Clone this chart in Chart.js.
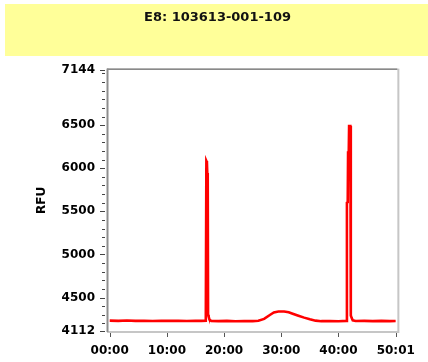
<!DOCTYPE html>
<html>
<head>
<meta charset="utf-8">
<script src="https://cdn.jsdelivr.net/npm/chart.js@4.4.0/dist/chart.umd.min.js"></script>
<style>
  html, body { margin: 0; padding: 0; background: #fff; }
</style>
</head>
<body>
<canvas id="myChart" width="428" height="362"></canvas>
<script>
// DATA
const chartTitle = 'E8: 103613-001-109';
const yTitle = 'RFU';

// run time in minutes
const timeMin = [
    0, 1.5, 3, 4.5, 6, 7.5, 9, 10.5, 12, 13.5, 15, 16,
    16.8, 16.9, 17.0, 17.06, 17.14, 17.2, 17.3, 17.45, 17.75,
    19, 20.5, 22, 23.5, 25,
    26, 27, 28, 28.7, 29.5, 30.5, 31.3, 32, 33, 34, 35, 36, 37,
    38.5, 40, 41.4,
    41.48, 41.62, 41.68, 41.8, 41.86, 42.08, 42.16, 42.3, 42.5,
    43, 44.5, 46, 47.5, 49, 50.0
];
const rfu = [
    4232, 4230, 4233, 4229, 4231, 4228, 4230, 4229, 4231, 4228, 4230, 4229,
    4232, 6085, 6070, 5944, 5935, 4300, 4280, 4242, 4229,
    4226, 4229, 4225, 4228, 4226,
    4230, 4252, 4298, 4328, 4338, 4338, 4330, 4313, 4290, 4267, 4247, 4232, 4226,
    4228, 4225, 4229,
    5600, 5605, 6183, 6190, 6490, 6490, 4292, 4265, 4236,
    4228, 4230, 4227, 4229, 4226, 4228
];

const yMajorTicks = [4112, 4500, 5000, 5500, 6000, 6500, 7144];
const yMinorTicks = [4200, 4300, 4400, 4600, 4700, 4800, 4900, 5100, 5200, 5300, 5400,
    5600, 5700, 5800, 5900, 6100, 6200, 6300, 6400, 6600, 6700, 6800, 6900, 7000, 7100];
const xTickValues = [0, 10, 20, 30, 40, 50.0167];
const xTickLabels = ['00:00', '10:00', '20:00', '30:00', '40:00', '50:01'];

const tickFont = { family: 'DejaVu Sans', size: 12, weight: 'bold', lineHeight: 1.2 };

// fond jaune du titre + cadre + graduations
const decor = {
    id: 'decor',
    beforeDraw(chart) {
        const ctx = chart.ctx;
        ctx.save();
        ctx.fillStyle = '#ffff99';
        ctx.fillRect(5, 4, 423, 52);
        ctx.restore();
    },
    afterDraw(chart) {
        const { ctx, chartArea: a, scales } = chart;
        const x = scales.x, y = scales.y;
        ctx.save();
        const w = a.right - a.left, h = a.bottom - a.top;

        // cadre
        ctx.fillStyle = '#c6c6c6';
        ctx.fillRect(a.left - 1, a.bottom, w + 3, 2);
        ctx.fillRect(a.right, a.top - 1, 2, h + 1);
        ctx.fillStyle = '#3c3c3c';
        ctx.fillRect(a.left - 1, a.top - 1, w + 1, 1);
        ctx.fillStyle = '#8e8e8e';
        ctx.fillRect(a.left - 1.5, a.top - 1, 2, h + 2);

        // graduations Y
        ctx.strokeStyle = '#444';
        ctx.lineWidth = 1;
        ctx.beginPath();
        yMajorTicks.forEach(function (v) {
            const py = Math.round(y.getPixelForValue(v)) + 0.5;
            ctx.moveTo(a.left - 8, py);
            ctx.lineTo(a.left - 3, py);
        });
        yMinorTicks.forEach(function (v) {
            const py = Math.round(y.getPixelForValue(v)) + 0.5;
            ctx.moveTo(a.left - 6, py);
            ctx.lineTo(a.left - 3, py);
        });
        ctx.stroke();

        // graduations X
        ctx.strokeStyle = '#555';
        ctx.beginPath();
        xTickValues.forEach(function (v) {
            const px = Math.round(x.getPixelForValue(v)) + 0.5;
            ctx.moveTo(px, a.bottom + 2);
            ctx.lineTo(px, a.bottom + 6);
        });
        ctx.stroke();
        ctx.restore();
    }
};

const data = {
    datasets: [{
        label: yTitle,
        data: timeMin.map(function (t, i) { return { x: t, y: rfu[i] }; }),
        borderColor: '#ff0000',
        borderWidth: 2.6,
        pointRadius: 0,
        tension: 0,
        fill: false
    }]
};

const config = {
    type: 'line',
    data: data,
    plugins: [decor],
    options: {
        responsive: false,
        devicePixelRatio: 1,
        animation: false,
        layout: { padding: { left: 7, right: 0, top: 0, bottom: 0 } },
        plugins: {
            legend: { display: false },
            tooltip: { enabled: false },
            title: {
                display: true,
                text: chartTitle,
                color: '#111',
                font: { family: 'DejaVu Sans', size: 13, weight: 'bold', lineHeight: 1.2 },
                padding: { top: 10, bottom: 44 }
            }
        },
        scales: {
            x: {
                type: 'linear',
                min: -0.3,
                max: 50.3,
                grid: { display: false, drawTicks: false },
                border: { display: false },
                afterBuildTicks: function (s) { s.ticks = xTickValues.map(function (v) { return { value: v }; }); },
                afterFit: function (s) { s.height = 31; },
                ticks: {
                    autoSkip: false,
                    maxRotation: 0,
                    padding: 13,
                    color: '#000',
                    font: tickFont,
                    callback: function (v, i) { return xTickLabels[i]; }
                }
            },
            y: {
                type: 'linear',
                min: 4112,
                max: 7144,
                grid: { display: false, drawTicks: false },
                border: { display: false },
                afterBuildTicks: function (s) {
                    s.ticks = yMajorTicks.concat(yMinorTicks).sort(function (p, q) { return p - q; })
                        .map(function (v) { return { value: v }; });
                },
                afterFit: function (s) { s.width = 101; },
                ticks: {
                    autoSkip: false,
                    padding: 13,
                    color: '#000',
                    font: tickFont,
                    callback: function (v) { return yMajorTicks.indexOf(v) >= 0 ? String(v) : ''; }
                },
                title: {
                    display: true,
                    text: yTitle,
                    color: '#000',
                    font: { family: 'DejaVu Sans', size: 12, weight: 'bold', lineHeight: 1.2 },
                    padding: { top: 28, bottom: 0 }
                }
            },
            y2: {
                type: 'linear',
                position: 'right',
                min: 0,
                max: 1,
                grid: { display: false, drawTicks: false },
                border: { display: false },
                ticks: { display: false },
                afterFit: function (s) { s.width = 29; }
            }
        }
    }
};

const myChart = new Chart(document.getElementById('myChart'), config);
</script>
</body>
</html>
